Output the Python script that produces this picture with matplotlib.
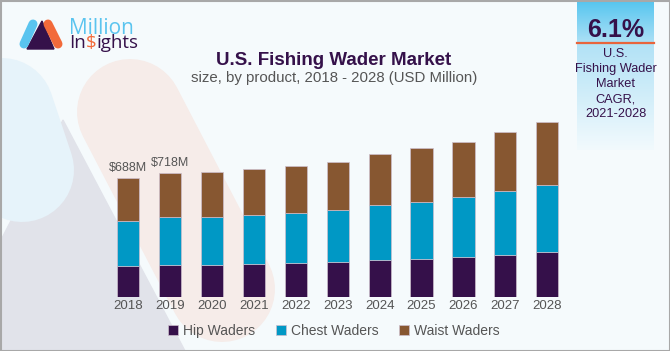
import numpy as np
import matplotlib.pyplot as plt
from matplotlib.patches import Polygon, Rectangle
from matplotlib import font_manager

years = ["2018", "2019", "2020", "2021", "2022", "2023", "2024", "2025", "2026", "2027", "2028"]
hip = [177, 185, 186, 190, 195, 201, 213, 220, 232, 244, 259]
chest = [262, 276, 274, 282, 290, 303, 317, 331, 344, 369, 389]
waist = [249, 257, 263, 267, 273, 280, 300, 309, 321, 340, 364]
value_labels = ["$688M", "$718M"]
series_names = ["Hip Waders", "Chest Waders", "Waist Waders"]
cagr_value = "6.1%"
cagr_lines = ["U.S.", "Fishing Wader", "Market", "CAGR,", "2021-2028"]

W, H = 670, 351
DARK = "#35114a"
GRAY = "#555555"
colors = ["#35104a", "#0098c5", "#875731"]

names = {f.name for f in font_manager.fontManager.ttflist}
plt.rcParams["font.family"] = ["Liberation Sans", "DejaVu Sans"]
logo_font = "Open Sans" if "Open Sans" in names else "DejaVu Sans"

fig = plt.figure(figsize=(W / 100, H / 100), dpi=100)

# background decoration, drawn in pixel coordinates (y down)
bg = fig.add_axes([0, 0, 1, 1], zorder=0)
bg.set_xlim(0, W)
bg.set_ylim(H, 0)
bg.axis("off")
bg.add_patch(Rectangle((0, 0), W, H, color="#f5fafc"))
px = 0.72  # points per pixel at dpi 100
bg.plot([2, 22], [110, 170], color="#e6f3fa", lw=104 * px, solid_capstyle="round")
bg.plot([130, 222], [112, 289], color="#f6ece9", lw=106 * px, solid_capstyle="round")
bg.add_patch(Polygon([(63, 120), (0, 242), (0, H), (185, H)], closed=True, color="#e1e3ea"))

# CAGR box
grad = np.linspace(0, 1, 200)[:, None]
cmap = plt.matplotlib.colors.LinearSegmentedColormap.from_list(
    "cagr", [(0, "#55c5ef"), (0.3, "#b2e2f6"), (1, "#f2fafd")])
bg.imshow(grad, cmap=cmap, extent=[577, 654, 150, 0], aspect="auto", zorder=2)
bg.plot([577, 654], [43, 43], color="#e8643c", lw=1.6, zorder=3)
bg.text(615.5, 37, cagr_value, ha="center", va="baseline", fontsize=18,
        fontweight="bold", color=DARK, zorder=4)
for i, line in enumerate(cagr_lines):
    bg.text(615.5, 57 + 15 * i, line, ha="center", va="baseline", fontsize=9.2,
            color=DARK, zorder=4)

# logo
bg.plot([33, 24], [24, 44], color="#5ac4ef", lw=9 * px, solid_capstyle="round")
bg.plot([48, 58], [24, 44], color="#f26a3a", lw=9 * px, solid_capstyle="round")
bg.add_patch(Polygon([(27, 49), (42, 21), (54, 49)], closed=True, color=DARK))
bg.text(69, 34, "Million", fontsize=15, color="#5ac4ef", family=logo_font,
        va="baseline", ha="left")
t1 = bg.text(69, 48, "In", fontsize=13.5, color=DARK, family=logo_font,
             va="baseline", ha="left", fontweight="medium")
t2 = bg.annotate(r"\$", xy=(1, 0), xycoords=t1, va="bottom", ha="left",
                 fontsize=13.5, color="#f26a3a", family=logo_font, fontweight="medium")
bg.annotate("ights", xy=(1, 0), xycoords=t2, va="bottom", ha="left",
            fontsize=13.5, color=DARK, family=logo_font, fontweight="medium")

# titles
bg.text(334, 65, "U.S. Fishing Wader Market", ha="center", va="baseline",
        fontsize=13.5, fontweight="bold", color=DARK)
bg.text(334, 82, "size, by product, 2018 - 2028 (USD Million)", ha="center",
        va="baseline", fontsize=10.8, color=GRAY)

# border
bg.add_patch(Rectangle((0.5, 0.5), W - 1, H - 1, fill=False, ec="#a8a8a8", lw=1.5, zorder=5))

# chart
ax = fig.add_axes([107.2 / W, (H - 296.7) / H, 461 / W, 186.7 / H], zorder=1)
ax.patch.set_alpha(0)
x = np.arange(len(years))
bottom = np.zeros(len(years))
for vals, c, name in zip([hip, chest, waist], colors, series_names):
    ax.bar(x, vals, 0.53, bottom=bottom, color=c, label=name,
           edgecolor="#cdbfcd", linewidth=0.5)
    bottom += np.array(vals)

for i, lab in enumerate(value_labels):
    ax.annotate(lab.replace("$", r"\$"), (x[i], bottom[i]), xytext=(0, 3),
                textcoords="offset points", ha="center", va="bottom",
                fontsize=9, color=GRAY)

ax.set_xlim(-0.5, 10.5)
ax.set_ylim(0, 186.7 * 5.8)
ax.set_xticks(x)
ax.set_xticklabels(years, fontsize=9.5, color=GRAY)
ax.tick_params(axis="x", length=0, pad=2.4)
ax.set_yticks([])
for s in ax.spines.values():
    s.set_visible(False)

fig.legend(loc="center", bbox_to_anchor=(0.4985, 1 - 331 / H), ncol=3, frameon=False,
           fontsize=10, handlelength=0.7, handleheight=0.7, handletextpad=0.36,
           columnspacing=1.5, labelcolor=GRAY)

fig.savefig("out.png", dpi=100)
